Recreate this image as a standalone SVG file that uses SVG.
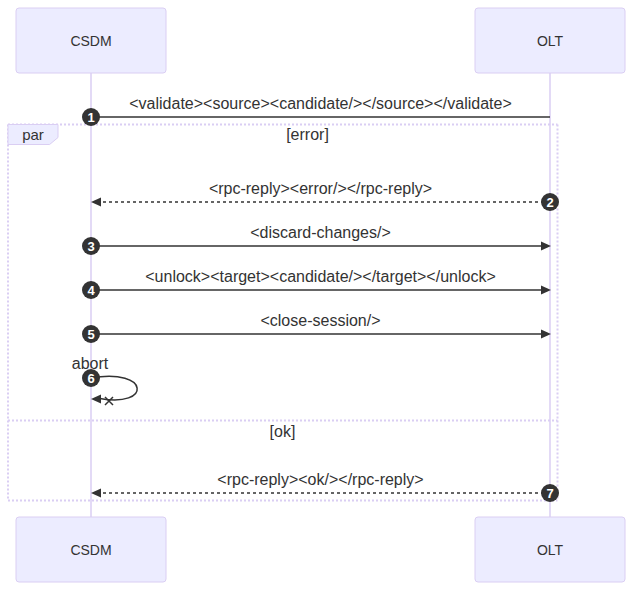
<svg xmlns="http://www.w3.org/2000/svg" width="633" height="591" viewBox="0 0 633 591">
<style>
.actor{fill:#ECECFF;stroke:#DACEF3;stroke-width:1}
.atext{font-family:"Liberation Sans",Arial,sans-serif;font-size:14px;fill:#333;text-anchor:middle}
.life{stroke:#DACEF3;stroke-width:1.5}
.msg{stroke:#333;stroke-width:1.5;fill:none}
.dot{stroke-dasharray:3,3}
.mtext{font-family:"Liberation Sans",Arial,sans-serif;font-size:16px;fill:#333;text-anchor:middle}
.loop{stroke:#DACEF3;stroke-width:2;stroke-dasharray:2,2;fill:none}
.lbox{fill:#ECECFF;stroke:#DACEF3;stroke-width:1}
.num{fill:#333}
.ntext{font-family:"Liberation Sans",Arial,sans-serif;font-size:13px;font-weight:bold;fill:#fff;text-anchor:middle}
.head{fill:#333}
</style>
<g id="lifelines">
<line class="life" x1="91" y1="73" x2="91" y2="517"/>
<line class="life" x1="550" y1="73" x2="550" y2="517"/>
</g>
<g id="actor-CSDM-top"><rect class="actor" x="16" y="8" width="150" height="65" rx="3"/><text class="atext" x="91" y="45.5">CSDM</text></g>
<g id="actor-OLT-top"><rect class="actor" x="475" y="8" width="150" height="65" rx="3"/><text class="atext" x="550" y="45.5">OLT</text></g>
<g id="actor-CSDM-bottom"><rect class="actor" x="16" y="517" width="150" height="65" rx="3"/><text class="atext" x="91" y="554.5">CSDM</text></g>
<g id="actor-OLT-bottom"><rect class="actor" x="475" y="517" width="150" height="65" rx="3"/><text class="atext" x="550" y="554.5">OLT</text></g>
<g id="par-frame">
<line class="loop" x1="8" y1="124.5" x2="557.5" y2="124.5"/>
<line class="loop" x1="557.5" y1="124.5" x2="557.5" y2="500.5"/>
<line class="loop" x1="8" y1="500.5" x2="557.5" y2="500.5"/>
<line class="loop" x1="8" y1="124.5" x2="8" y2="500.5"/>
<line class="loop" x1="8" y1="420.5" x2="557.5" y2="420.5"/>
<polygon class="lbox" points="8,124.5 58,124.5 58,137.5 49.6,144.5 8,144.5"/>
<text class="mtext" x="33" y="140" style="font-size:15px">par</text>
<text class="mtext" x="307.5" y="140">[error]</text>
<text class="mtext" x="282.5" y="437">[ok]</text>
</g>
<g id="connectors">
<line class="msg" x1="91" y1="117" x2="550" y2="117"/>
<text class="mtext" x="320.5" y="108.5">&lt;validate&gt;&lt;source&gt;&lt;candidate/&gt;&lt;/source&gt;&lt;/validate&gt;</text>
<line class="msg dot" x1="550" y1="202" x2="100" y2="202"/>
<polygon class="head" points="91,202 101,197.5 101,206.5"/>
<text class="mtext" x="320.5" y="193.5">&lt;rpc-reply&gt;&lt;error/&gt;&lt;/rpc-reply&gt;</text>
<line class="msg" x1="91" y1="246" x2="542" y2="246"/>
<polygon class="head" points="551,246 541,241.5 541,250.5"/>
<text class="mtext" x="320.5" y="237.5">&lt;discard-changes/&gt;</text>
<line class="msg" x1="91" y1="290" x2="542" y2="290"/>
<polygon class="head" points="551,290 541,285.5 541,294.5"/>
<text class="mtext" x="320.5" y="281.5">&lt;unlock&gt;&lt;target&gt;&lt;candidate/&gt;&lt;/target&gt;&lt;/unlock&gt;</text>
<line class="msg" x1="91" y1="334" x2="542" y2="334"/>
<polygon class="head" points="551,334 541,329.5 541,338.5"/>
<text class="mtext" x="320.5" y="325.5">&lt;close-session/&gt;</text>
<path class="msg" d="M91,378 C151,368 151,408 100,398.5"/>
<polygon class="head" points="91,399 101,394.5 101,403.5"/>
<path class="msg" d="M105,397 L113,405 M113,397 L105,405"/>
<text class="mtext" x="90" y="368.5">abort</text>
<line class="msg dot" x1="550" y1="493" x2="100" y2="493"/>
<polygon class="head" points="91,493 101,488.5 101,497.5"/>
<text class="mtext" x="320.5" y="484.5">&lt;rpc-reply&gt;&lt;ok/&gt;&lt;/rpc-reply&gt;</text>
</g>
<g id="sequence-numbers">
<circle class="num" cx="91" cy="117" r="9"/><text class="ntext" x="91" y="121.6">1</text>
<circle class="num" cx="550" cy="202" r="9"/><text class="ntext" x="550" y="206.6">2</text>
<circle class="num" cx="91" cy="246" r="9"/><text class="ntext" x="91" y="250.6">3</text>
<circle class="num" cx="91" cy="290" r="9"/><text class="ntext" x="91" y="294.6">4</text>
<circle class="num" cx="91" cy="334" r="9"/><text class="ntext" x="91" y="338.6">5</text>
<circle class="num" cx="91" cy="378" r="9"/><text class="ntext" x="91" y="382.6">6</text>
<circle class="num" cx="550" cy="493" r="9"/><text class="ntext" x="550" y="497.6">7</text>
</g>
</svg>
